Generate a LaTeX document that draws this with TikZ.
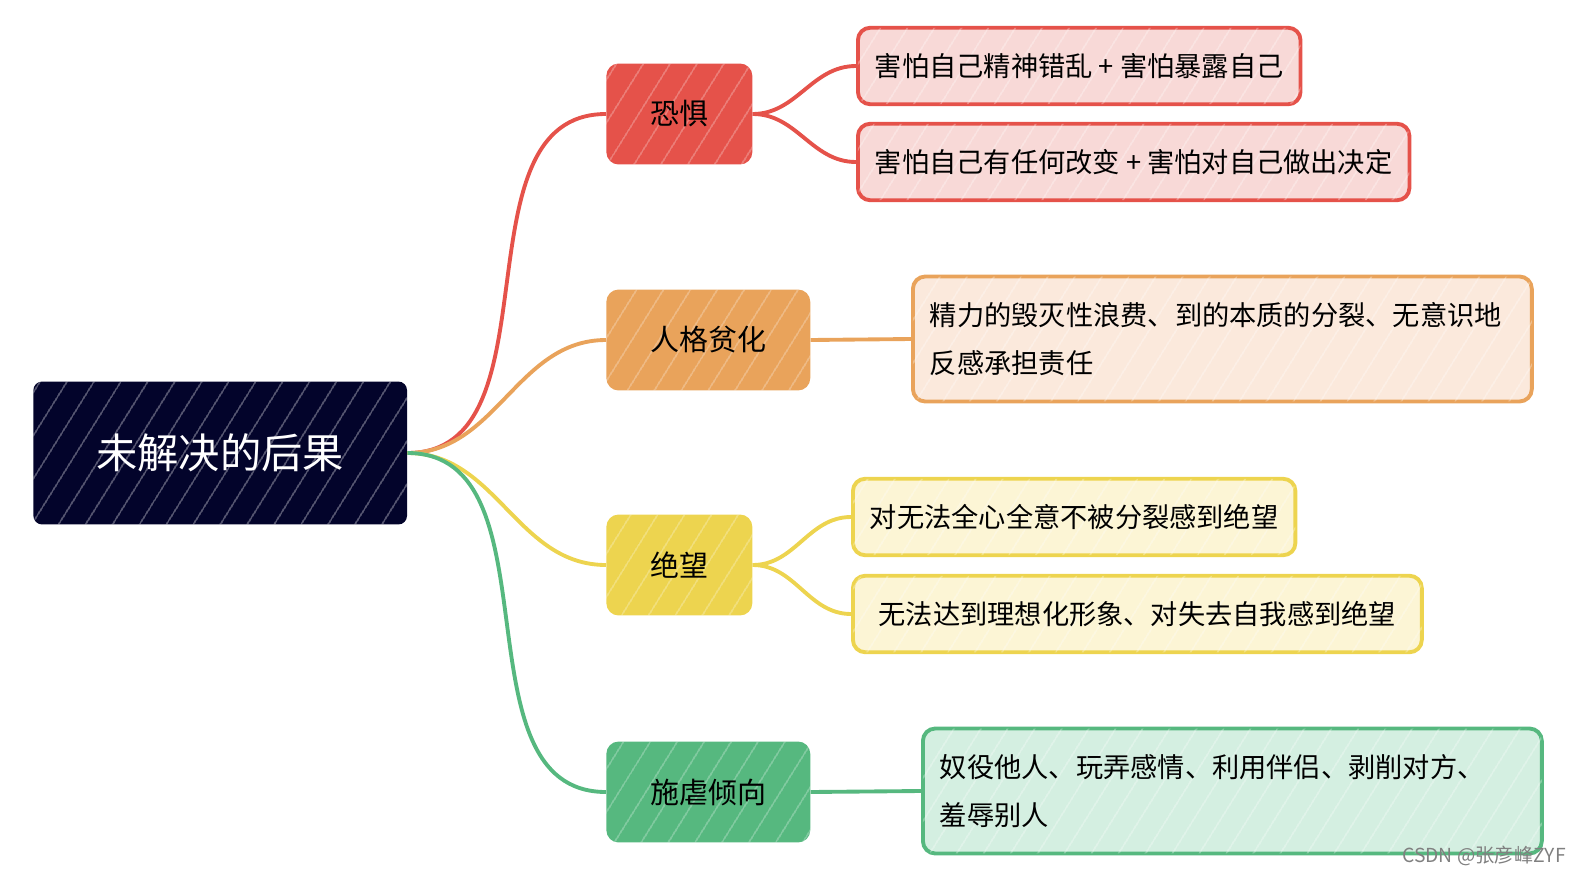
\documentclass[tikz,border=0pt]{standalone}
\usepackage{fontspec}
\setmainfont{Noto Sans CJK SC}
\usetikzlibrary{positioning,patterns.meta}
\definecolor{rootnavy}{HTML}{03042B}
\definecolor{fearred}{HTML}{E5524A}
\definecolor{fearpale}{HTML}{F8D9D7}
\definecolor{poororange}{HTML}{E9A35B}
\definecolor{poorpale}{HTML}{FBE9DC}
\definecolor{despyellow}{HTML}{EDD44F}
\definecolor{desppale}{HTML}{FCF5D5}
\definecolor{sadgreen}{HTML}{56B87F}
\definecolor{sadpale}{HTML}{D4EFE1}

\begin{document}
\begin{tikzpicture}[x=0.02cm,y=-0.02cm,
  hatch/.style={postaction={pattern={Lines[angle=58,distance=13pt,line width=0.6pt]},pattern color=white,fill opacity=#1}},
  rootbox/.style={fill=rootnavy,rounded corners=5pt,text=white,anchor=west,inner xsep=1.26cm,minimum height=2.86cm,font=\fontsize{23.5}{28}\selectfont,hatch=0.5},
  branch/.style={fill=#1,rounded corners=7pt,anchor=west,inner xsep=0.88cm,minimum height=2.02cm,font=\fontsize{16.5}{20}\selectfont,hatch=0.4},
  leaf/.style={line width=2.2pt,rounded corners=7pt,anchor=west,align=left,inner xsep=0.34cm,minimum height=1.53cm,font=\fontsize{15.5}{27}\selectfont,hatch=0.45},
  link/.style={line width=2.2pt}]
\useasboundingbox (0,0) rectangle (1583,876);
\node[rootbox] (root) at (33,453) {未解决的后果};
\node[branch=fearred] (fear) at (606,114) {恐惧};
\node[branch=poororange] (poor) at (606,340) {人格贫化};
\node[branch=despyellow] (desp) at (606,565) {绝望};
\node[branch=sadgreen] (sad) at (606,792) {施虐倾向};
\node[leaf,draw=fearred,fill=fearpale] (fearA) at (856,66) {害怕自己精神错乱 + 害怕暴露自己};
\node[leaf,draw=fearred,fill=fearpale] (fearB) at (856,162) {害怕自己有任何改变 + 害怕对自己做出决定};
\node[leaf,draw=poororange,fill=poorpale,minimum height=2.5cm,text width=11.7cm] (poorA) at (911,339) {精力的毁灭性浪费、到的本质的分裂、无意识地\\反感承担责任};
\node[leaf,draw=despyellow,fill=desppale] (despA) at (851,517) {对无法全心全意不被分裂感到绝望};
\node[leaf,draw=despyellow,fill=desppale,minimum width=11.38cm] (despB) at (851,614) {无法达到理想化形象、对失去自我感到绝望};
\node[leaf,draw=sadgreen,fill=sadpale,minimum height=2.5cm,text width=11.7cm] (sadA) at (921,791) {奴役他人、玩弄感情、利用伴侣、剥削对方、\\羞辱别人};
\node[anchor=south east,text=gray,font=\fontsize{11}{13}\selectfont] (credit) at (1572,872) {CSDN @张彦峰ZYF};
\draw[link,fearred] (root.east) to[out=0,in=180] (fear.west);
\draw[link,poororange] (root.east) to[out=0,in=180] (poor.west);
\draw[link,despyellow] (root.east) to[out=0,in=180] (desp.west);
\draw[link,sadgreen] (root.east) to[out=0,in=180] (sad.west);
\draw[link,fearred] (fear.east) to[out=0,in=180] (fearA.west);
\draw[link,fearred] (fear.east) to[out=0,in=180] (fearB.west);
\draw[link,poororange] (poor.east) -- (poorA.west);
\draw[link,despyellow] (desp.east) to[out=0,in=180] (despA.west);
\draw[link,despyellow] (desp.east) to[out=0,in=180] (despB.west);
\draw[link,sadgreen] (sad.east) -- (sadA.west);
\end{tikzpicture}
\end{document}
